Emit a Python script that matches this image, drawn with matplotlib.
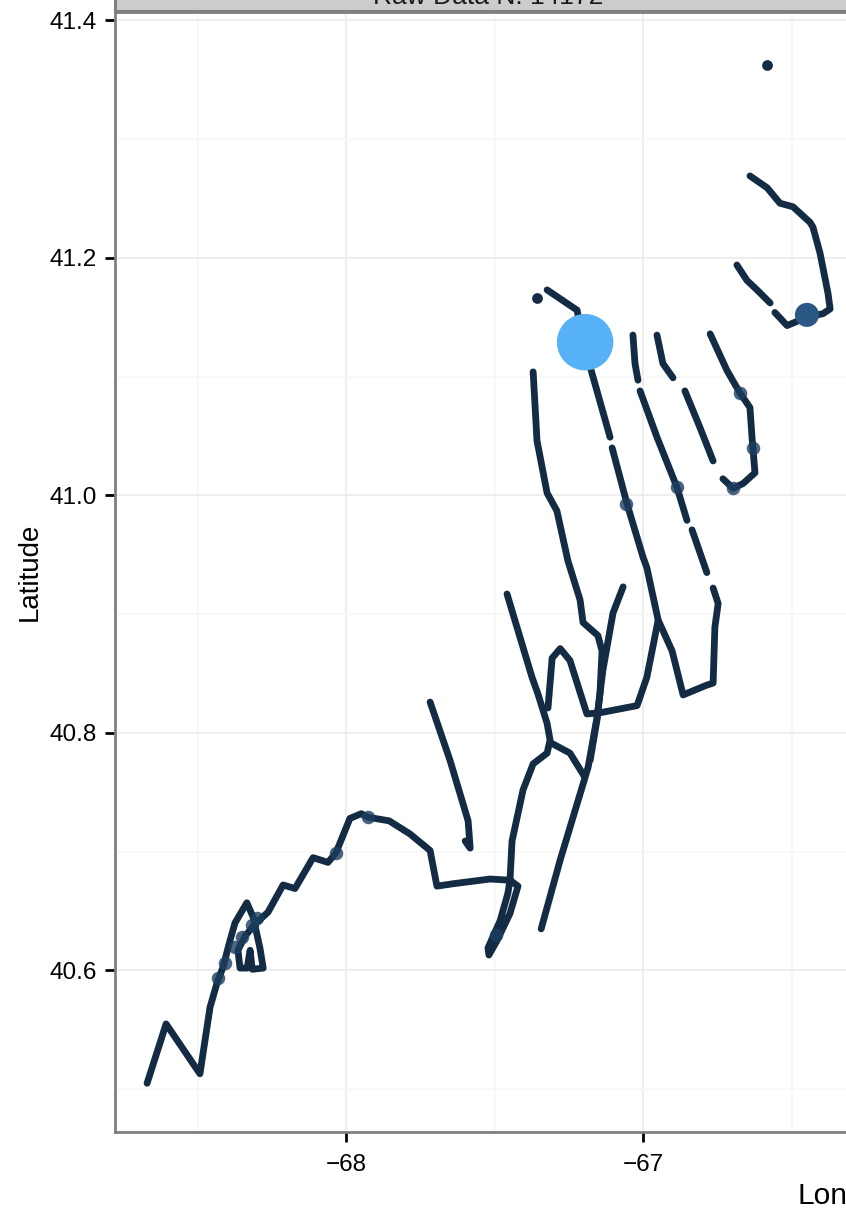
import numpy as np
import matplotlib.pyplot as plt
from matplotlib.patches import Rectangle

plt.rcParams['font.family'] = ['Liberation Sans', 'DejaVu Sans']

nan = np.nan

# --- track positions (lon, lat); NaN breaks a track where fixes are missing ---
main_lon = [-68.670, -68.606, -68.492, -68.458, -68.435, -68.414, -68.391, -68.374,
            -68.334, -68.313, -68.290, -68.279, -68.316, -68.323, -68.333, -68.357,
            -68.364, -68.340, -68.303, -68.263, -68.212, -68.172, -68.111, -68.061,
            -68.034, -67.987, -67.949, -67.926, -67.855, -67.785, -67.717, -67.694,
            -67.640, -67.515, -67.448, -67.421, -67.448, -67.492, -67.519, -67.522,
            -67.481, -67.455, -67.448, -67.441, -67.404, -67.370, -67.323, -67.313,
            -67.323, -67.354, -67.374, -67.458]
main_lat = [40.505, 40.555, 40.513, 40.569, 40.589, 40.603, 40.625, 40.640,
            40.657, 40.645, 40.619, 40.602, 40.601, 40.617, 40.602, 40.602,
            40.617, 40.629, 40.640, 40.649, 40.672, 40.669, 40.695, 40.691,
            40.699, 40.728, 40.732, 40.729, 40.726, 40.715, 40.701, 40.671,
            40.673, 40.677, 40.676, 40.671, 40.648, 40.625, 40.613, 40.619,
            40.642, 40.665, 40.676, 40.709, 40.752, 40.774, 40.783, 40.794,
            40.808, 40.833, 40.847, 40.917]

hook_lon = [-67.717, -67.650, -67.589, -67.582, -67.599]
hook_lat = [40.826, 40.777, 40.726, 40.703, 40.709]

zig_lon = [-67.320, -67.306, -67.279, -67.246, -67.189, -67.145, -67.020, -66.987, -66.949]
zig_lat = [40.821, 40.863, 40.871, 40.861, 40.816, 40.817, 40.823, 40.847, 40.895]

diag_lon = [-67.343, -67.279, -67.185, -67.155, -67.135, -67.101, -67.067]
diag_lat = [40.635, 40.693, 40.771, 40.813, 40.853, 40.901, 40.923]

west_lon = [-67.370, -67.357, -67.323, -67.290, -67.253, -67.212, -67.202, -67.152,
            -67.138, -67.145, -67.155, -67.178]
west_lat = [41.104, 41.046, 41.002, 40.987, 40.945, 40.912, 40.893, 40.882,
            40.869, 40.833, 40.811, 40.777]

link_lon = [-67.313, -67.246, -67.199]
link_lat = [40.792, 40.783, 40.764]

loop_lon = [-67.323, -67.246, -67.222, -67.202, -67.172, -67.111, nan, -67.104,
            -67.054, -67.000, -66.987, -66.949, -66.902, -66.865, -66.788, -66.764,
            -66.758, -66.747, -66.764, nan, -66.785, -66.835, nan, -66.852,
            -66.886, -66.953, -67.010, nan, -67.017, -67.027, -67.034]
loop_lat = [41.173, 41.160, 41.156, 41.129, 41.103, 41.049, nan, 41.040,
            40.993, 40.948, 40.939, 40.895, 40.869, 40.832, 40.840, 40.842,
            40.889, 40.909, 40.922, nan, 40.935, 40.971, nan, 40.979,
            41.007, 41.049, 41.088, nan, 41.097, 41.111, 41.135]

mid_lon = [-66.953, -66.933, -66.899, nan, -66.859, -66.808, -66.764]
mid_lat = [41.135, 41.111, 41.099, nan, 41.088, 41.057, 41.029]

east_lon = [-66.774, -66.717, -66.673, -66.640, -66.633, -66.630, -66.623, -66.663,
            -66.697, -66.731]
east_lat = [41.136, 41.105, 41.086, 41.074, 41.049, 41.040, 41.019, 41.010,
            41.006, 41.014]

north_lon = [-66.640, -66.582, -66.539, -66.495, -66.438, -66.428, -66.404, -66.377,
             -66.370, -66.394, -66.448, -66.515, -66.556, nan, -66.572, -66.616,
             -66.650, -66.684]
north_lat = [41.269, 41.259, 41.246, 41.243, 41.230, 41.226, 41.204, 41.170,
             41.157, 41.153, 41.150, 41.143, 41.154, nan, 41.162, 41.173,
             41.181, 41.194]

tracks = [(main_lon, main_lat), (hook_lon, hook_lat), (zig_lon, zig_lat),
          (diag_lon, diag_lat), (west_lon, west_lat), (link_lon, link_lat),
          (loop_lon, loop_lat), (mid_lon, mid_lat), (east_lon, east_lat),
          (north_lon, north_lat)]

# isolated fixes
lone_lon = [-66.582, -67.357]
lone_lat = [41.362, 41.166]

# slightly heavier fixes scattered along the tracks
heavy_lon = [-68.430, -68.408, -68.375, -68.350, -68.318, -68.300, -68.034, -67.926,
             -66.886, -66.630, -66.673, -66.697, -67.057, -67.495]
heavy_lat = [40.594, 40.606, 40.620, 40.628, 40.638, 40.644, 40.699, 40.729,
             41.007, 41.040, 41.086, 41.006, 40.993, 40.630]

# the two large fixes
big_lon = [-67.195, -66.448]
big_lat = [41.129, 41.152]
big_size = [1650, 300]
big_color = ['#56B1F7', '#2A5783']

xticks = [-68, -67]
yticks = [40.6, 40.8, 41.0, 41.2, 41.4]

# --- figure ---------------------------------------------------------------------
W, H = 846, 1210
fig = plt.figure(figsize=(W / 100, H / 100), dpi=100)
ax = fig.add_axes([115 / W, 1 - 1132 / H, (861 - 115) / W, (1132 - 12) / H])

track_col = '#132B43'
for lon, lat in tracks:
    ax.plot(lon, lat, color=track_col, lw=4.9, solid_capstyle='round',
            solid_joinstyle='round', zorder=3)
ax.scatter(lone_lon, lone_lat, s=60, color=track_col, lw=0, zorder=3)
ax.scatter(heavy_lon, heavy_lat, s=95, color='#1D3E60', alpha=0.8, lw=0, zorder=4)
ax.scatter(big_lon, big_lat, s=big_size, c=big_color, lw=0, zorder=5)

ax.set_xlim(-68.778, -66.266)
ax.set_ylim(40.464, 41.407)

# theme_bw-like grid
ax.set_xticks(xticks)
ax.set_yticks(yticks)
ax.set_xticks([-68.5, -67.5, -66.5], minor=True)
ax.set_yticks([40.5, 40.7, 40.9, 41.1, 41.3], minor=True)
ax.grid(True, which='major', color='#EBEBEB', lw=1.2)
ax.grid(True, which='minor', color='#F7F7F7', lw=1.2)
ax.set_axisbelow(True)
ax.set_xticklabels(['\u221268', '\u221267'])
ax.set_yticklabels(['40.6', '40.8', '41.0', '41.2', '41.4'])
ax.tick_params(which='major', length=7, width=2, color='black', labelsize=17.5,
               labelcolor='black')
ax.tick_params(axis='x', which='major', pad=9)
ax.tick_params(axis='y', which='major', pad=6)
ax.tick_params(which='minor', length=0)
for s in ax.spines.values():
    s.set_color('#7F7F7F')
    s.set_linewidth(2)

ax.set_ylabel('Latitude', fontsize=20, labelpad=5)

# facet strip along the top of the panel
strip = Rectangle((115 / W, 1 - 11 / H), (861 - 115) / W, 30 / H,
                  transform=fig.transFigure, facecolor='#CCCCCC',
                  edgecolor='#7F7F7F', lw=2.2, zorder=0, clip_on=False)
fig.patches.append(strip)
fig.text(488 / W, 1 - 4 / H, 'Raw Data N: 14172', ha='center', va='baseline',
         fontsize=19, color='#1A1A1A')

fig.text(797 / W, 1 - 1204 / H, 'Longitude', ha='left', va='baseline', fontsize=21.5)

fig.savefig('out.png', dpi=100)
